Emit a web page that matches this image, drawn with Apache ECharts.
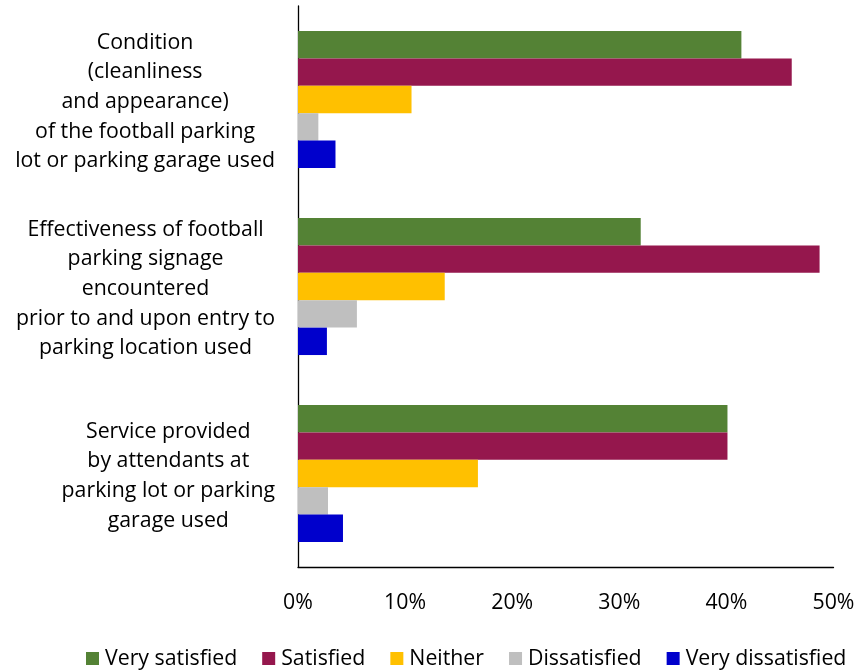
<!DOCTYPE html>
<html>
<head>
<meta charset="utf-8">
<script src="https://cdn.jsdelivr.net/npm/echarts@6/dist/echarts.min.js"></script>
<style>
  html, body { margin: 0; padding: 0; background: #fff; }
  #chart { width: 858px; height: 670px; }
</style>
</head>
<body>
<div id="chart"></div>
<script>
// Survey items (lines of each wrapped label)
const categories = [
  ['Condition', '(cleanliness', 'and appearance)', 'of the football parking', 'lot or parking garage used'],
  ['Effectiveness of football', 'parking signage', 'encountered', 'prior to and upon entry to', 'parking location used'],
  ['Service provided', 'by attendants at', 'parking lot or parking', 'garage used']
];

const seriesNames = ['Very satisfied', 'Satisfied', 'Neither', 'Dissatisfied', 'Very dissatisfied'];

// Share of respondents, percent
const verySatisfied    = [41.4, 32.0, 40.1];
const satisfied        = [46.1, 48.7, 40.1];
const neither          = [10.6, 13.7, 16.8];
const dissatisfied     = [1.9, 5.5, 2.8];
const veryDissatisfied = [3.5, 2.7, 4.2];

const xTicks = { min: 0, max: 50, step: 10 };

const colors = ['#548235', '#95174D', '#FFC000', '#BFBFBF', '#0000CC'];
const FONT = '"Open Sans", "Noto Sans", "DejaVu Sans", sans-serif';
const FS = 21.3;

const values = [verySatisfied, satisfied, neither, dissatisfied, veryDissatisfied];
const catKeys = categories.map(c => c.join(' '));

const chart = echarts.init(document.getElementById('chart'), null, { renderer: 'canvas' });

chart.setOption({
  animation: false,
  textStyle: { fontFamily: FONT, color: '#000' },
  grid: { left: 298, right: 24.5, top: 6, bottom: 103, containLabel: false, outerBoundsMode: 'none' },
  legend: {
    data: seriesNames,
    left: 86,
    top: 648,
    padding: 0,
    icon: 'rect',
    itemWidth: 13,
    itemHeight: 13,
    itemGap: 25,
    textStyle: { fontFamily: FONT, fontSize: FS, color: '#000', padding: [0, 0, 0, 1] }
  },
  xAxis: {
    type: 'value',
    min: xTicks.min,
    max: xTicks.max,
    interval: xTicks.step,
    axisLine: { show: true, lineStyle: { color: '#000', width: 1.3 } },
    axisTick: { show: false },
    splitLine: { show: false },
    axisLabel: {
      formatter: '{value}%',
      fontFamily: FONT,
      fontSize: FS,
      color: '#000',
      margin: 25
    }
  },
  yAxis: {
    type: 'category',
    inverse: true,
    data: catKeys,
    axisLine: { show: true, lineStyle: { color: '#000', width: 1.3 } },
    axisTick: { show: false },
    axisLabel: {
      align: 'right',
      margin: 23,
      padding: [5, 0, 0, 0],
      formatter: function (value, idx) {
        return categories[idx].map(l => '{t|' + l + '}').join('\n');
      },
      rich: {
        t: { align: 'center', fontFamily: FONT, fontSize: FS, color: '#000', lineHeight: 29.7 }
      }
    }
  },
  series: seriesNames.map((name, i) => ({
    name: name,
    type: 'bar',
    data: values[i],
    barGap: 0,
    barCategoryGap: '26.7%',
    itemStyle: { color: colors[i] }
  }))
});
</script>
</body>
</html>
